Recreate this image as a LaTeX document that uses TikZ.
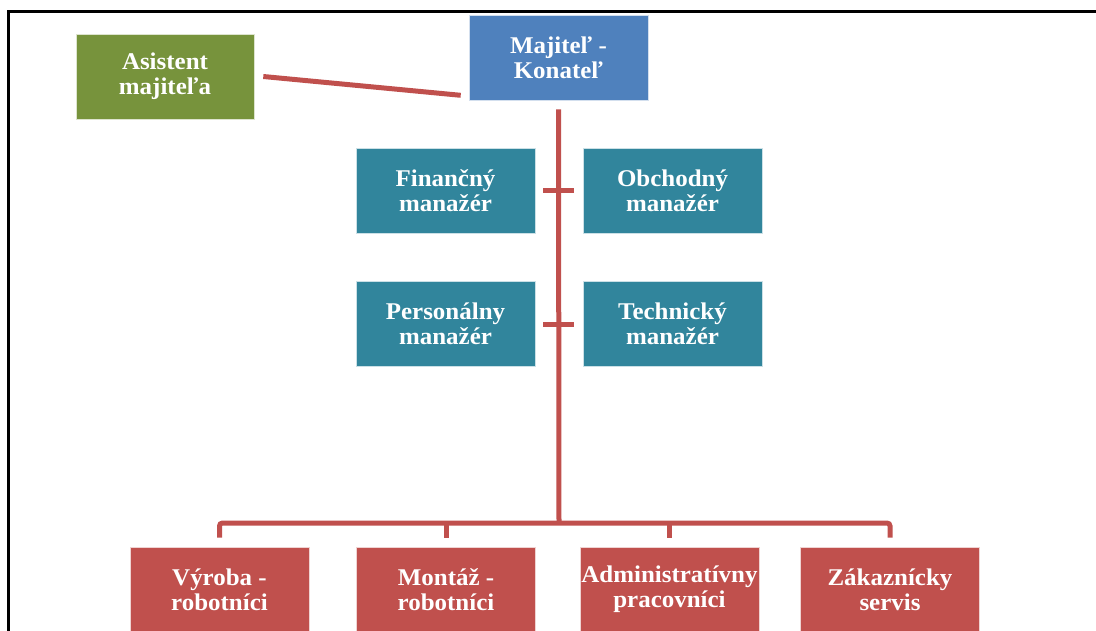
\documentclass[tikz,border=0pt]{standalone}
\usepackage{fontspec}
\setmainfont{Liberation Serif}[FakeStretch=1.04]
\definecolor{accblue}{HTML}{4F81BD}
\definecolor{accgreen}{HTML}{77933C}
\definecolor{accteal}{HTML}{31859C}
\definecolor{accred}{HTML}{C0504D}
\begin{document}
\begin{tikzpicture}[x=1pt,y=-1pt,
  box/.style={minimum width=179pt,minimum height=85pt,inner sep=0pt,
    draw=white!75!#1,line width=0.6pt,fill=#1,text=white,align=center,
    font=\bfseries\fontsize{24}{25}\selectfont},
  link/.style={draw=accred,line width=5pt},
  frame/.style={draw=black,line width=2.6pt}]
\useasboundingbox (0,0) rectangle (1096,630);
\clip (0,0) rectangle (1096,630);

% outer page frame
\draw[frame] (8.7,640) -- (8.7,11.3) -- (1100,11.3);

% owner and assistant
\node[box=accblue]  (maj) at (558.5,57.5) {Majiteľ -\\Konateľ};
\node[box=accgreen,minimum width=178pt] (asi) at (165,76.5) {Asistent\\majiteľa};

% managers
\node[box=accteal] (fin) at (445.5,190.5) {Finančný\\manažér};
\node[box=accteal] (obc) at (672.5,190.5) {Obchodný\\manažér};
\node[box=accteal] (per) at (445.5,324) {Personálny\\manažér};
\node[box=accteal] (tec) at (672.5,324) {Technický\\manažér};

% departments
\node[box=accred] (vyr) at (219.5,589.5) {Výroba -\\robotníci};
\node[box=accred] (mon) at (446,589.5) {Montáž -\\robotníci};
\node[box=accred] (adm) at (669.5,589.5) {Administratívny\\pracovníci};
\node[box=accred] (zak) at (890,589.5) {Zákaznícky\\servis};

% connectors
\coordinate (bus) at (559,523);
\draw[link] ([xshift=9pt]asi.east) -- ([xshift=-8pt,yshift=5pt]maj.south west);
\draw[link] ([yshift=-9pt]maj.south) -- (bus);
\draw[link] ([xshift=8pt]fin.east) -- ([xshift=-9pt]obc.west);
\draw[link] ([xshift=8pt]per.east) -- ([xshift=-9pt]tec.west);
\draw[link,rounded corners=3pt] ([yshift=9pt]vyr.north) |- (bus) -| ([yshift=9pt]zak.north);
\draw[link] ([yshift=9pt]mon.north) -- (mon.north |- bus);
\draw[link] ([yshift=9pt]adm.north) -- (adm.north |- bus);
\end{tikzpicture}
\end{document}
